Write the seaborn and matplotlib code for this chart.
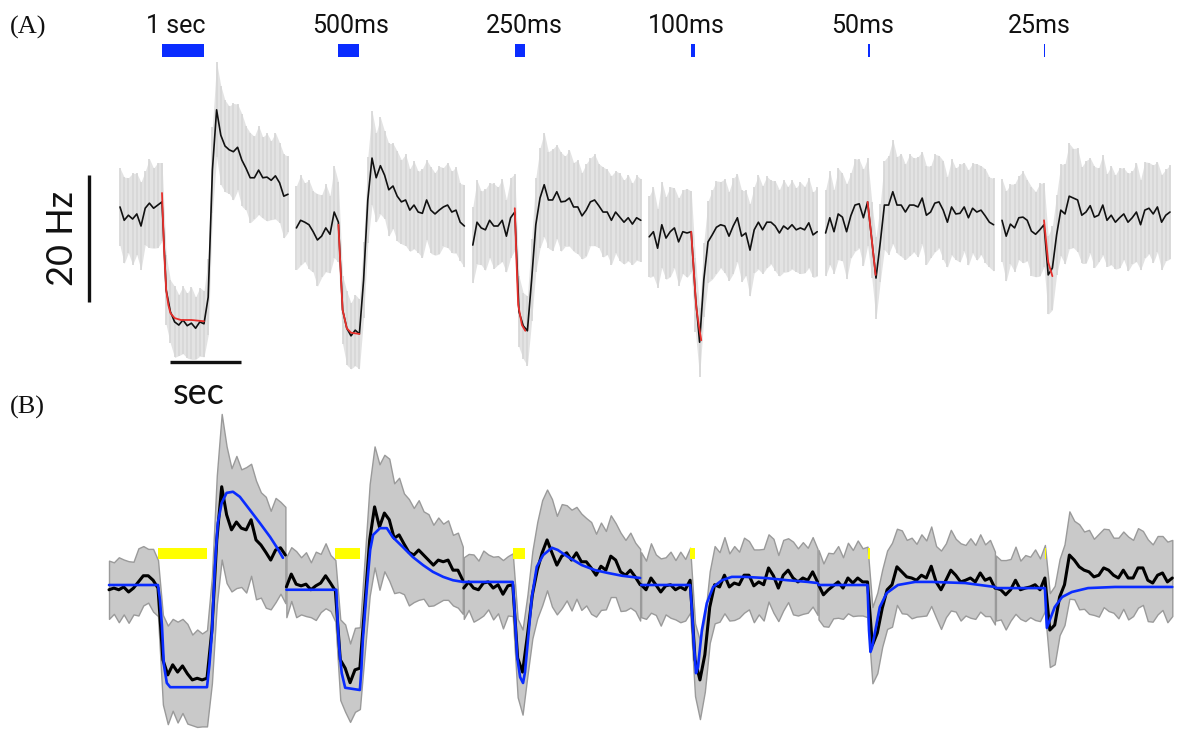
import numpy as np
import matplotlib
matplotlib.use("Agg")
import matplotlib.pyplot as plt
import seaborn as sns
from matplotlib import font_manager

# ---------------------------------------------------------------- data
# stimulus durations (s) and their labels
STIM_DUR = [1.0, 0.5, 0.25, 0.1, 0.05, 0.025]
STIM_LABELS = ["1 sec", "500ms", "250ms", "100ms", "50ms", "25ms"]

# panel A: firing rate (Hz), sampled every 0.1 s from -1 s to 3 s around onset
A_T = np.round(np.arange(-1.0, 3.001, 0.1), 2)
A1_RATE = [30.4, 28.3, 29.1, 28.5, 29.3, 27.4, 30.2, 31.0, 30.2, 30.7, 31.2,
           17.3, 13.9, 12.3, 11.8, 12.6, 11.7, 12.1, 11.3, 12.3, 12.0,
           16.2, 36.2, 45.7, 41.7, 40.0, 39.4, 39.1, 39.8, 37.8, 36.5,
           35.0, 35.0, 36.2, 35.0, 35.1, 34.6, 35.3, 34.2, 32.1, 32.4]
A2_RATE = [27.1, 28.3, 28.0, 27.6, 26.5, 25.2, 25.8, 27.1, 26.1, 29.6, 28.0,
           14.2, 11.3, 10.1, 11.0, 10.4, 18.9, 31.5, 38.1, 35.0, 36.9,
           35.4, 33.1, 33.7, 32.1, 31.2, 31.5, 29.9, 30.7, 29.6, 29.4,
           31.5, 29.9, 29.3, 29.9, 30.4, 30.7, 29.6, 29.9, 28.0, 27.4]
A3_RATE = [24.4, 28.0, 27.1, 26.8, 28.3, 27.4, 27.4, 28.3, 25.8, 28.7, 29.6,
           13.9, 11.7, 10.9, 18.9, 27.6, 31.8, 33.9, 31.5, 31.5, 32.8,
           31.2, 31.3, 31.8, 30.4, 30.4, 29.0, 29.9, 31.2, 31.5, 30.6,
           29.6, 29.6, 28.3, 29.6, 28.8, 28.0, 28.7, 27.7, 28.7, 28.3]
A4_RATE = [25.7, 26.5, 23.9, 27.6, 25.5, 26.5, 27.1, 24.9, 26.5, 26.3, 26.5,
           16.5, 9.1, 18.9, 24.9, 26.0, 27.2, 27.6, 27.4, 25.8, 27.4,
           28.7, 25.8, 26.3, 23.6, 26.8, 28.0, 26.8, 28.0, 28.0, 27.4,
           26.3, 27.4, 26.9, 27.6, 26.8, 27.1, 26.8, 27.9, 26.0, 26.5]
A5_RATE = [26.3, 28.7, 26.5, 29.3, 28.8, 26.5, 29.0, 30.7, 30.9, 28.7, 31.2,
           25.2, 19.2, 24.7, 30.7, 30.7, 32.8, 30.7, 30.7, 29.6, 30.7,
           30.7, 30.4, 31.8, 29.1, 29.6, 31.0, 31.2, 29.9, 28.0, 30.4,
           29.3, 29.4, 30.4, 28.7, 30.2, 29.6, 29.9, 29.0, 28.0, 27.6]
A6_RATE = [28.3, 25.8, 27.7, 27.1, 28.7, 28.8, 28.3, 26.6, 26.1, 26.8, 27.6,
           19.7, 20.8, 26.0, 29.9, 29.3, 32.1, 31.8, 31.5, 29.1, 29.6,
           30.6, 28.8, 29.1, 30.7, 28.3, 29.1, 28.0, 28.7, 29.3, 28.0,
           28.7, 29.6, 27.6, 29.9, 30.2, 29.3, 30.4, 28.0, 29.1, 29.6]

# panel A: s.e.m. (Hz)
A1_SEM = [6.1, 6.8, 5.9, 7.2, 6.4, 6.9, 5.8, 7.0, 6.3, 6.7, 6.2,
          5.5, 5.0, 5.6, 4.8, 5.3, 5.1, 5.7, 4.9, 5.4, 5.2,
          6.0, 6.8, 7.5, 7.8, 7.2, 6.9, 7.6, 6.8, 7.3, 6.6,
          7.1, 6.5, 7.0, 6.4, 6.9, 6.2, 6.8, 6.3, 6.6, 6.0]
A2_SEM = [6.6, 7.1, 6.2, 7.0, 6.4, 7.3, 6.5, 6.9, 6.1, 7.2, 6.3,
          5.4, 5.8, 5.2, 5.6, 5.5,
          6.0, 6.8, 7.4, 7.0, 7.6, 6.9, 7.3, 6.7, 7.1, 6.6, 7.2, 6.5, 6.9,
          6.4, 7.0, 6.3, 6.8, 6.5, 6.9, 6.2, 6.7, 6.4, 6.8, 6.1, 6.5]
A3_SEM = [6.0, 6.6, 5.8, 6.4, 5.9, 6.7, 6.1, 6.5, 5.7, 6.3, 6.0,
          5.6, 5.2, 5.5,
          6.5, 7.4, 7.9, 8.2, 7.6, 8.0, 7.4, 7.8, 7.1, 7.6, 7.0, 7.4, 6.8, 7.3,
          6.9, 7.2, 6.6, 7.1, 6.7, 7.0, 6.5, 6.9, 6.6, 6.8, 6.4, 6.7, 6.5]
A4_SEM = [6.4, 7.0, 6.2, 6.8, 6.5, 7.1, 6.3, 6.9, 6.6, 7.0, 6.4,
          5.8, 5.4, 5.9,
          6.4, 7.0, 7.3, 6.8, 7.4, 7.0, 7.5, 6.9, 7.2, 6.7, 7.3, 6.8, 7.4, 6.9,
          7.2, 6.6, 7.1, 6.8, 7.3, 6.7, 7.0, 6.6, 7.2, 6.8, 7.1, 6.7, 7.0]
A5_SEM = [6.8, 7.4, 6.6, 7.2, 6.9, 7.5, 6.7, 7.3, 7.0, 7.6, 6.9,
          6.0, 6.4, 6.1,
          7.0, 7.8, 8.2, 7.6, 8.1, 7.5, 8.0, 7.4, 7.9, 7.3, 7.8, 7.2, 7.7, 7.3,
          7.8, 7.1, 7.6, 7.2, 7.7, 7.0, 7.5, 7.1, 7.6, 7.0, 7.4, 7.1, 7.3]
A6_SEM = [6.5, 7.1, 6.3, 6.9, 6.6, 7.2, 6.4, 7.0, 6.7, 7.3, 6.6,
          6.2, 6.6, 6.3,
          7.2, 7.9, 8.3, 7.8, 8.2, 7.6, 8.1, 7.5, 8.0, 7.4, 7.9, 7.3, 7.8, 7.4,
          7.9, 7.2, 7.7, 7.3, 7.8, 7.1, 7.6, 7.2, 7.7, 7.1, 7.5, 7.2, 7.4]

# panel A: exponential fits of the decline during stimulation (time from onset, Hz)
A1_FIT_T = [0.0, 0.05, 0.1, 0.15, 0.2, 0.3, 0.45, 0.7, 1.0]
A1_FIT = [32.6, 23.6, 17.3, 15.0, 13.7, 12.9, 12.6, 12.6, 12.4]
A2_FIT_T = [0.0, 0.05, 0.1, 0.2, 0.3, 0.5]
A2_FIT = [27.6, 20.8, 14.2, 11.3, 10.6, 10.4]
A3_FIT_T = [0.0, 0.04, 0.08, 0.17, 0.25]
A3_FIT = [30.2, 22.0, 15.0, 11.8, 10.9]
A4_FIT_T = [0.0, 0.06, 0.12, 0.18, 0.24]
A4_FIT = [26.5, 20.5, 14.6, 11.8, 9.4]
A5_FIT_T = [0.0, 0.1, 0.19]
A5_FIT = [31.2, 25.2, 19.7]
A6_FIT_T = [0.0, 0.1, 0.2]
A6_FIT = [28.3, 21.7, 19.5]

# panel B: firing rate (Hz), sampled every 0.1 s from -1 s to 2.6 s around onset
B_T = np.round(np.arange(-1.0, 2.601, 0.1), 2)
B1_RATE = [30.4, 30.7, 30.4, 30.9, 30.0, 30.7, 31.8, 32.9, 32.9, 32.1, 30.7,
           17.9, 15.2, 17.0, 15.7, 16.8, 15.4, 14.3, 14.6, 14.3, 14.6,
           23.2, 39.3, 48.8, 43.8, 41.1, 42.5, 41.4, 41.1, 42.9, 39.3,
           38.4, 37.1, 35.7, 37.5, 37.9, 36.6]
B2_RATE = [30.9, 33.2, 31.4, 31.1, 31.4, 30.4, 31.1, 31.6, 32.9, 31.6, 30.2,
           17.9, 16.4, 13.8, 16.1, 16.4, 27.7, 39.3, 45.2, 41.6, 44.1,
           42.9, 39.6, 40.2, 38.6, 37.1, 36.6, 37.5, 36.6, 35.7, 34.8,
           35.7, 35.4, 35.7, 33.9, 33.9, 32.1]
B3_RATE = [30.7, 31.8, 30.7, 30.4, 31.6, 31.8, 30.7, 31.3, 29.6, 31.1, 31.3,
           18.2, 15.7, 22.3, 29.5, 33.9, 37.0, 39.3, 37.0, 34.8, 36.4,
           37.0, 35.7, 37.0, 35.4, 35.4, 34.3, 33.0, 34.6, 33.9, 36.4,
           35.7, 33.6, 33.0, 33.9, 32.7, 31.3]
B4_RATE = [31.3, 30.4, 32.5, 31.3, 30.0, 31.1, 31.3, 30.4, 30.9, 30.4, 32.1,
           17.9, 14.3, 18.8, 27.3, 31.3, 30.9, 33.0, 30.9, 31.6, 31.3,
           33.0, 33.0, 31.1, 31.8, 31.3, 34.3, 32.9, 30.7, 33.0, 33.9,
           32.5, 31.8, 32.5, 32.1, 33.6, 31.8]
B5_RATE = [31.3, 29.5, 30.4, 31.1, 31.8, 30.7, 32.5, 31.6, 32.5, 31.8, 31.8,
           20.5, 22.7, 27.1, 30.4, 31.3, 34.5, 33.6, 32.7, 32.5, 32.1,
           33.0, 32.5, 34.6, 31.8, 30.4, 32.1, 33.9, 33.0, 31.8, 32.1,
           32.5, 31.8, 33.4, 32.1, 32.5, 30.7]
B6_RATE = [30.7, 30.4, 29.5, 30.4, 32.1, 30.4, 30.7, 30.9, 31.3, 30.4, 32.5,
           23.2, 24.1, 29.1, 31.3, 36.6, 35.7, 34.5, 33.9, 33.6, 32.7,
           33.0, 34.3, 33.9, 33.0, 32.5, 33.9, 32.5, 32.5, 34.3, 34.3,
           32.1, 31.6, 33.0, 33.4, 31.8, 32.5]

# panel B: s.e.m. (Hz)
B1_SEM = [5.2, 4.6, 5.8, 4.9, 5.5, 4.7, 6.0, 5.3, 4.8, 5.6, 5.0,
          8.0, 8.8, 8.2, 9.0, 8.4, 8.9, 8.1, 8.7, 8.3, 8.6,
          9.5, 11.5, 13.0, 12.2, 11.0, 11.8, 10.5, 11.2, 10.0, 10.6,
          9.4, 9.9, 8.8, 9.3, 8.2, 8.6]
B2_SEM = [5.4, 4.8, 5.9, 5.1, 5.7, 4.9, 6.1, 5.2, 5.8, 5.0, 5.5,
          7.2, 7.8, 7.0, 7.5, 7.3,
          8.5, 10.0, 10.8, 11.2, 10.4, 10.9, 9.8, 10.2, 9.0, 9.5, 8.4,
          8.9, 7.8, 8.2, 7.2, 7.6, 6.8, 7.1, 6.3, 6.7, 6.0]
B3_SEM = [5.5, 5.0, 6.0, 5.2, 5.8, 4.9, 5.6, 5.1, 6.1, 5.3, 5.6,
          7.0, 7.6, 7.2,
          7.8, 8.6, 9.4, 9.0, 9.6, 8.8, 9.3, 8.5, 9.0, 8.2, 8.6, 7.8,
          8.2, 7.4, 7.8, 7.0, 7.3, 6.6, 7.0, 6.3, 6.7, 6.1, 6.4]
B4_SEM = [5.8, 5.2, 6.2, 5.4, 6.0, 5.1, 5.9, 5.3, 6.3, 5.5, 5.8,
          6.5, 7.0, 6.6,
          6.4, 6.9, 6.2, 6.8, 6.0, 6.6, 5.9, 6.7, 6.1, 6.5, 5.8, 6.4,
          6.0, 6.6, 5.9, 6.3, 5.7, 6.5, 6.0, 6.4, 5.8, 6.2, 5.9]
B5_SEM = [6.2, 5.6, 6.6, 5.8, 6.4, 5.5, 6.3, 5.9, 6.7, 6.0, 6.3,
          6.8, 7.2, 6.9,
          7.0, 7.5, 6.8, 7.4, 6.6, 7.2, 6.5, 7.3, 6.7, 7.1, 6.4, 7.0,
          6.6, 7.2, 6.5, 6.9, 6.3, 7.1, 6.6, 6.9, 6.4, 6.8, 6.5]
B6_SEM = [5.8, 5.3, 6.2, 5.5, 6.0, 5.2, 5.9, 5.4, 6.3, 5.6, 5.9,
          6.6, 7.0, 6.8,
          7.2, 7.8, 7.0, 7.6, 6.9, 7.5, 6.8, 7.4, 7.0, 7.3, 6.7, 7.2,
          6.9, 7.4, 6.8, 7.1, 6.6, 7.3, 6.9, 7.0, 6.6, 7.2, 6.8]

# panel B: model fits (time from onset, Hz)
B1_FIT_T = [-1.0, 0.0, 0.04, 0.08, 0.12, 0.18, 0.25, 1.0, 1.05, 1.1, 1.16,
            1.22, 1.3, 1.4, 1.53, 1.67, 1.88, 2.08, 2.29, 2.43, 2.55]
B1_FIT = [31.25, 31.25, 28.6, 24.1, 17.0, 13.75, 13.0, 13.0, 17.0, 22.7, 34.5,
          42.3, 45.9, 47.7, 47.9, 47.0, 44.6, 42.3, 39.8, 37.9, 36.1]
B2_FIT_T = [-1.0, 0.02, 0.05, 0.09, 0.13, 0.2, 0.5, 0.53, 0.56, 0.64, 0.71,
            0.77, 0.91, 1.05, 1.17, 1.38, 1.58, 1.79, 1.99, 2.2, 2.4, 2.6]
B2_FIT = [30.4, 30.4, 23.75, 18.75, 15.5, 12.9, 12.5, 16.1, 21.4, 30.4, 37.5,
          40.2, 41.4, 41.4, 39.8, 38.0, 36.25, 34.8, 33.6, 32.7, 32.1, 31.8]
B3_FIT_T = [-1.0, 0.0, 0.04, 0.09, 0.15, 0.21, 0.25, 0.31, 0.39, 0.49, 0.62,
            0.8, 0.92, 1.13, 1.41, 1.68, 1.94, 2.23, 2.6]
B3_FIT = [31.8, 31.8, 26.25, 18.4, 14.8, 13.75, 15.7, 21.4, 29.1, 34.5, 36.6,
          37.9, 37.5, 36.25, 34.8, 33.9, 33.4, 32.9, 32.5]
B4_FIT_T = [-1.0, 0.0, 0.04, 0.08, 0.12, 0.16, 0.24, 0.34, 0.47, 0.65, 0.85,
            1.12, 1.53, 1.99, 2.4, 2.6]
B4_FIT = [31.25, 31.25, 26.25, 20.2, 15.5, 16.6, 23.2, 28.0, 30.9, 32.1, 32.7,
          32.7, 32.5, 32.1, 31.8, 31.6]
B5_FIT_T = [-1.0, 0.0, 0.03, 0.06, 0.09, 0.15, 0.25, 0.39, 0.62, 0.97, 1.31,
            1.99, 2.6]
B5_FIT = [31.25, 31.25, 23.2, 19.3, 20.0, 22.7, 27.3, 29.8, 31.25, 31.8, 31.8,
          31.6, 30.9]
B6_FIT_T = [-1.0, 0.0, 0.04, 0.1, 0.2, 0.35, 0.55, 0.88, 1.43, 2.1, 2.6]
B6_FIT = [30.7, 30.7, 23.6, 25.0, 27.3, 29.1, 30.0, 30.7, 30.9, 30.9, 30.9]

A_RATES = [A1_RATE, A2_RATE, A3_RATE, A4_RATE, A5_RATE, A6_RATE]
A_SEMS = [A1_SEM, A2_SEM, A3_SEM, A4_SEM, A5_SEM, A6_SEM]
A_FITS = [(A1_FIT_T, A1_FIT), (A2_FIT_T, A2_FIT), (A3_FIT_T, A3_FIT),
          (A4_FIT_T, A4_FIT), (A5_FIT_T, A5_FIT), (A6_FIT_T, A6_FIT)]
B_RATES = [B1_RATE, B2_RATE, B3_RATE, B4_RATE, B5_RATE, B6_RATE]
B_SEMS = [B1_SEM, B2_SEM, B3_SEM, B4_SEM, B5_SEM, B6_SEM]
B_FITS = [(B1_FIT_T, B1_FIT), (B2_FIT_T, B2_FIT), (B3_FIT_T, B3_FIT),
          (B4_FIT_T, B4_FIT), (B5_FIT_T, B5_FIT), (B6_FIT_T, B6_FIT)]

# ---------------------------------------------------------------- layout
W, H = 1177, 730
A_PX_S, A_PX_HZ = 42.0, 6.35     # pixel scale of panel A
B_PX_S, B_PX_HZ = 49.0, 5.6      # pixel scale of panel B
A_GAP = 4.2                      # spacing of the sweeps in panel A (s)
B_GAP = 3.62                     # spacing of the sweeps in panel B (s)
SPLIT = 392                      # pixel row between the panels

sns.set_theme(style="white")
plt.rcParams["font.family"] = ["DejaVu Sans"]
_names = {f.name for f in font_manager.fontManager.ttflist}
if "Liberation Sans Narrow" in _names:
    NARROW, NARROW_SIZE = "Liberation Sans Narrow", 20
else:
    NARROW, NARROW_SIZE = "Roboto", 18
SANS = "Lato" if "Lato" in _names else "DejaVu Sans"
SERIF = "Liberation Serif"

fig = plt.figure(figsize=(W / 100, H / 100), dpi=100)
fig.patch.set_facecolor("white")
axA = fig.add_axes([0, (H - SPLIT) / H, 1, SPLIT / H])
axB = fig.add_axes([0, 0, 1, (H - SPLIT) / H])

axA.set_xlim(-120 / A_PX_S, (W - 120) / A_PX_S)
axA.set_ylim((400 - SPLIT) / A_PX_HZ, 400 / A_PX_HZ)
axB.set_xlim(-109 / B_PX_S, (W - 109) / B_PX_S)
axB.set_ylim((760 - H) / B_PX_HZ, (760 - SPLIT) / B_PX_HZ)

BLUE = "#0a2cff"
RED = "#e8302c"

# ---------------------------------------------------------------- panel A
A_ONSETS = [A_GAP * k + 1.0 for k in range(6)]
for k in range(6):
    on = A_ONSETS[k]
    t = on + A_T
    m = np.array(A_RATES[k])
    s = np.array(A_SEMS[k])
    axA.fill_between(t, m - s, m + s, color="#e3e3e3", lw=0, zorder=1)
    axA.vlines(t, m - s, m + s, color="#d6d6d6", lw=1.2, zorder=1)
    sns.lineplot(x=t, y=m, ax=axA, color="#111111", lw=1.2, sort=False,
                 estimator=None, zorder=3)
    ft, fy = A_FITS[k]
    sns.lineplot(x=on + np.array(ft), y=fy, ax=axA, color=RED, lw=1.3,
                 sort=False, estimator=None, zorder=4)

# stimulus bars and labels
axA.bar(A_ONSETS, [2.05] * 6, width=STIM_DUR, bottom=54.0, align="edge",
        color=BLUE, lw=0, zorder=5)
LABEL_DX = [0.33, 0.28, 0.22, -0.12, -0.13, -0.1]
for on, lab, dx in zip(A_ONSETS, STIM_LABELS, LABEL_DX):
    axA.text(on + dx, 57.8, lab, ha="center", va="baseline",
             fontsize=NARROW_SIZE, family=[NARROW, "DejaVu Sans"],
             color="#111111")

# scale bars
SCALE_HZ = 20
axA.plot([-0.74, -0.74], [15.43, 15.43 + SCALE_HZ], color="#111111", lw=2.4,
         solid_capstyle="butt", zorder=5)
axA.text(-1.38, 15.43 + SCALE_HZ / 2, "20 Hz", rotation=90, ha="center",
         va="center", fontsize=26, family=[SANS, "DejaVu Sans"], color="#111111")
axA.plot([1.19, 2.88], [5.98, 5.98], color="#111111", lw=2.4,
         solid_capstyle="butt", zorder=5)
axA.text(1.88, 1.1, "sec", ha="center", va="center", fontsize=26,
         family=[SANS, "DejaVu Sans"], color="#111111", clip_on=False)

# ---------------------------------------------------------------- panel B
B_ONSETS = [B_GAP * k + 1.0 for k in range(6)]
for k in range(6):
    on = B_ONSETS[k]
    t = on + B_T
    m = np.array(B_RATES[k])
    s = np.array(B_SEMS[k])
    axB.fill_between(t, m - s, m + s, facecolor="#c9c9c9", edgecolor="#9a9a9a",
                     lw=1.0, zorder=1)
    sns.lineplot(x=t, y=m, ax=axB, color="black", lw=2.2, sort=False,
                 estimator=None, zorder=3)
    ft, fy = B_FITS[k]
    sns.lineplot(x=on + np.array(ft), y=fy, ax=axB, color=BLUE, lw=1.9,
                 sort=False, estimator=None, zorder=4)

axB.bar(B_ONSETS, [1.96] * 6, width=STIM_DUR, bottom=35.9, align="edge",
        color="#ffff00", lw=0, zorder=5)

for ax in (axA, axB):
    ax.set_axis_off()

fig.text(10 / W, 1 - 27.5 / H, "(A)", ha="left", va="center", fontsize=19,
         family=SERIF, color="#111111")
fig.text(10 / W, 1 - 407 / H, "(B)", ha="left", va="center", fontsize=19,
         family=SERIF, color="#111111")

fig.savefig("out.png", dpi=100, facecolor="white")
